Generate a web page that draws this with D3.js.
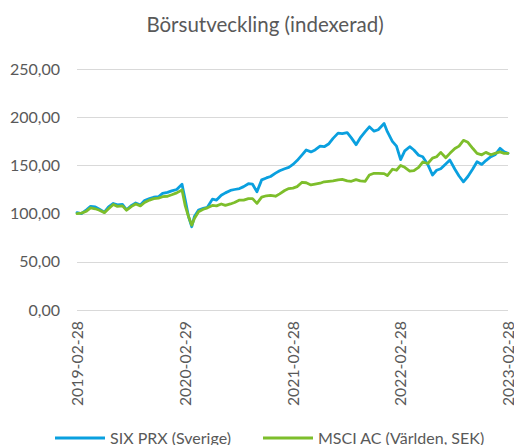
<!DOCTYPE html>
<html>
<head>
<meta charset="utf-8">
<script src="https://cdn.jsdelivr.net/npm/d3@7"></script>
<style>
  html, body { margin: 0; padding: 0; background: #ffffff; }
  svg { display: block; }
  text { font-family: Lato, "Open Sans", sans-serif; fill: #595959; }
</style>
</head>
<body>
<svg id="chart" width="514" height="445"></svg>
<script>
const title = "Börsutveckling (indexerad)";
const seriesNames = ["SIX PRX (Sverige)", "MSCI AC (Världen, SEK)"];
const xTickLabels = ["2019-02-28", "2020-02-29", "2021-02-28", "2022-02-28", "2023-02-28"];
const yTicks = [0, 50, 100, 150, 200, 250];

const dates = [
  "2019-02-28","2019-03-15","2019-04-01","2019-04-15","2019-05-01","2019-05-15","2019-06-01","2019-06-15",
  "2019-07-01","2019-07-15","2019-08-01","2019-08-15","2019-09-01","2019-09-15","2019-10-01","2019-10-15",
  "2019-11-01","2019-11-15","2019-12-01","2019-12-15","2020-01-01","2020-01-15","2020-02-01","2020-02-19",
  "2020-03-01","2020-03-12","2020-03-23","2020-04-01","2020-04-15","2020-05-01","2020-05-15","2020-06-01",
  "2020-06-15","2020-07-01","2020-07-15","2020-08-01","2020-08-15","2020-09-01","2020-09-15","2020-10-01",
  "2020-10-15","2020-10-30","2020-11-15","2020-12-01","2020-12-15","2021-01-01","2021-01-15","2021-02-01",
  "2021-02-15","2021-03-01","2021-03-15","2021-04-01","2021-04-15","2021-05-01","2021-05-15","2021-06-01",
  "2021-06-15","2021-07-01","2021-07-15","2021-08-01","2021-08-15","2021-09-01","2021-09-15","2021-10-01",
  "2021-10-15","2021-11-01","2021-11-15","2021-12-01","2021-12-15","2022-01-04","2022-01-15","2022-02-01",
  "2022-02-15","2022-03-01","2022-03-15","2022-04-01","2022-04-15","2022-05-01","2022-05-15","2022-06-01",
  "2022-06-17","2022-07-01","2022-07-15","2022-08-01","2022-08-15","2022-09-01","2022-09-15","2022-09-30",
  "2022-10-15","2022-11-01","2022-11-15","2022-12-01","2022-12-15","2023-01-01","2023-01-15","2023-02-01",
  "2023-02-15","2023-02-28"
];

const sixPrx = [
  101, 100, 104, 107.5, 107, 104.5, 101.5, 107,
  110.5, 109, 109.5, 104, 108.5, 111, 109, 113.5,
  115.5, 117, 117.5, 121, 122, 123.5, 125, 130.4,
  114, 97, 86.4, 97, 103.7, 105.5, 106.5, 115,
  114, 119, 121.5, 124, 125, 126, 128, 131,
  130.5, 122.7, 135, 137, 138.5, 142, 144.5, 146.5,
  148, 151, 155, 161, 166, 164, 166, 170,
  169.4, 172.5, 178, 183.5, 183, 184, 178.5, 171.5,
  178.5, 185, 190, 185.5, 187, 193.5, 185, 175,
  170, 156, 165, 169.4, 166, 160.5, 159, 151,
  140, 145, 146.5, 151.5, 155.5, 146, 139, 133,
  138.5, 146.5, 153.8, 151, 155, 159, 161, 167.7,
  164, 162.5
];

const msciAc = [
  100, 100.5, 102.5, 106, 105, 103.5, 101, 105,
  109.5, 107.5, 108, 103.5, 107.5, 110, 108, 111.5,
  114, 115.5, 116, 117.5, 118, 119.5, 121.5, 124.5,
  108, 97, 88, 95, 102, 104.5, 106, 108.5,
  108, 110, 108.5, 110, 111.5, 114, 114, 115.5,
  115.5, 110.6, 117, 118.5, 119, 118, 120.5, 124,
  126, 126.5, 128, 132.5, 132, 129.7, 130.5, 131.5,
  133, 133.5, 134, 135, 135.5, 134, 133.5, 135.3,
  134, 133.5, 140, 141.8, 141.8, 141.5, 139.5, 146,
  145, 150, 148, 144, 144.5, 148, 153.5, 152,
  157.5, 159, 163.5, 158, 162.5, 167.5, 170, 176,
  174, 167.5, 162.5, 161, 163.5, 161, 162.5, 164,
  162.5, 162.5
];

const colors = ["#0aa0df", "#7dbe2b"];

const parse = d3.timeParse("%Y-%m-%d");
const svg = d3.select("#chart");

const x = d3.scaleTime()
  .domain([parse(xTickLabels[0]), parse(xTickLabels[xTickLabels.length - 1])])
  .range([77, 508]);
const y = d3.scaleLinear().domain([0, 250]).range([310, 69]);

const sv = d3.formatLocale({decimal: ",", thousands: "\u00a0", grouping: [3], currency: ["", " kr"]});
const fmt = sv.format(".2f");

// Title
svg.append("text")
  .attr("x", 265).attr("y", 32)
  .attr("text-anchor", "middle")
  .style("font-size", "20.5px")
  .text(title);

// Gridlines
svg.append("g").selectAll("line")
  .data(yTicks)
  .join("line")
  .attr("x1", 77).attr("x2", 508)
  .attr("y1", d => Math.round(y(d)) + 0.5).attr("y2", d => Math.round(y(d)) + 0.5)
  .attr("stroke", "#d9d9d9").attr("stroke-width", 1);

// Y axis labels
const yAxis = d3.axisLeft(y).tickValues(yTicks).tickFormat(fmt).tickSize(0).tickPadding(0);
const gy = svg.append("g").attr("transform", "translate(60,0)").call(yAxis);
gy.select(".domain").remove();
gy.selectAll("text").style("font-size", "16px").style("font-family", "Lato, sans-serif").attr("fill", "#595959");

// X axis labels
const xAxis = d3.axisBottom(x)
  .tickValues(xTickLabels.map(parse))
  .tickFormat(d3.timeFormat("%Y-%m-%d"))
  .tickSize(0);
const gx = svg.append("g").attr("transform", "translate(0,310)").call(xAxis);
gx.select(".domain").remove();
gx.selectAll("text")
  .attr("transform", "rotate(-90)")
  .attr("text-anchor", "end")
  .attr("x", -11)
  .attr("y", 0)
  .attr("dy", "0.35em")
  .style("font-size", "15.8px").style("font-family", "Lato, sans-serif").attr("fill", "#595959");

// Lines
const line = d3.line()
  .x(d => x(d.date))
  .y(d => y(d.value));

const series = [sixPrx, msciAc].map((vals, i) => ({
  name: seriesNames[i],
  color: colors[i],
  values: dates.map((d, j) => ({date: parse(d), value: vals[j]}))
}));

svg.append("g").selectAll("path")
  .data(series)
  .join("path")
  .attr("fill", "none")
  .attr("stroke", d => d.color)
  .attr("stroke-width", 2.8)
  .attr("stroke-linejoin", "round")
  .attr("stroke-linecap", "round")
  .attr("d", d => line(d.values));

// Legend
const legendX = [55, 263];
const lg = svg.append("g").selectAll("g")
  .data(series)
  .join("g")
  .attr("transform", (d, i) => `translate(${legendX[i]},438)`);
lg.append("line")
  .attr("x1", 0).attr("x2", 50)
  .attr("y1", 0).attr("y2", 0)
  .attr("stroke", d => d.color).attr("stroke-width", 2.8);
lg.append("text")
  .attr("x", 55).attr("y", 6)
  .style("font-size", "16px")
  .text(d => d.name);
</script>
</body>
</html>
